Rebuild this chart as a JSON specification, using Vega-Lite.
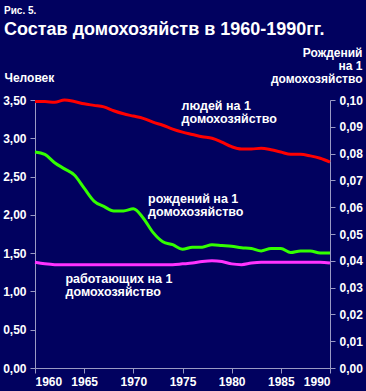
{
  "$schema": "https://vega.github.io/schema/vega-lite/v6.json",
  "width": 295,
  "height": 268,
  "autosize": "none",
  "padding": {"left": 35, "top": 100, "right": 36, "bottom": 23},
  "background": "#01015f",
  "title": {
    "text": "Рис. 5.",
    "subtitle": "Состав домохозяйств в 1960-1990гг.",
    "anchor": "start",
    "frame": "group",
    "dx": -31,
    "offset": 7,
    "font": "Liberation Sans",
    "fontSize": 10,
    "fontWeight": "bold",
    "color": "#ffffff",
    "subtitleFont": "Liberation Sans",
    "subtitleFontSize": 18,
    "subtitleFontWeight": "bold",
    "subtitleColor": "#ffffff",
    "subtitlePadding": 5
  },
  "config": {
    "view": {"stroke": null},
    "axis": {
      "labelFont": "Liberation Sans",
      "labelFontSize": 12,
      "labelFontWeight": "bold",
      "labelColor": "#ffffff",
      "labelOverlap": false,
      "titleFont": "Liberation Sans",
      "titleFontSize": 12,
      "titleFontWeight": "bold",
      "titleColor": "#ffffff",
      "domainColor": "#9a9ac4",
      "tickColor": "#9a9ac4",
      "tickSize": 5,
      "labelPadding": 4,
      "grid": false
    }
  },
  "layer": [
    {
      "layer": [
        {
          "data": {
            "values": [
              {"year": 1960, "series": "people", "value": 3.48},
              {"year": 1961, "series": "people", "value": 3.48},
              {"year": 1962, "series": "people", "value": 3.47},
              {"year": 1963, "series": "people", "value": 3.5},
              {"year": 1964, "series": "people", "value": 3.48},
              {"year": 1965, "series": "people", "value": 3.45},
              {"year": 1966, "series": "people", "value": 3.43},
              {"year": 1967, "series": "people", "value": 3.41},
              {"year": 1968, "series": "people", "value": 3.36},
              {"year": 1969, "series": "people", "value": 3.32},
              {"year": 1970, "series": "people", "value": 3.29},
              {"year": 1971, "series": "people", "value": 3.26},
              {"year": 1972, "series": "people", "value": 3.21},
              {"year": 1973, "series": "people", "value": 3.17},
              {"year": 1974, "series": "people", "value": 3.12},
              {"year": 1975, "series": "people", "value": 3.08},
              {"year": 1976, "series": "people", "value": 3.05},
              {"year": 1977, "series": "people", "value": 3.02},
              {"year": 1978, "series": "people", "value": 3.0},
              {"year": 1979, "series": "people", "value": 2.95},
              {"year": 1980, "series": "people", "value": 2.89},
              {"year": 1981, "series": "people", "value": 2.86},
              {"year": 1982, "series": "people", "value": 2.86},
              {"year": 1983, "series": "people", "value": 2.87},
              {"year": 1984, "series": "people", "value": 2.85},
              {"year": 1985, "series": "people", "value": 2.82},
              {"year": 1986, "series": "people", "value": 2.79},
              {"year": 1987, "series": "people", "value": 2.79},
              {"year": 1988, "series": "people", "value": 2.77},
              {"year": 1989, "series": "people", "value": 2.74},
              {"year": 1990, "series": "people", "value": 2.69},
              {"year": 1960, "series": "workers", "value": 1.38},
              {"year": 1961, "series": "workers", "value": 1.36},
              {"year": 1962, "series": "workers", "value": 1.35},
              {"year": 1963, "series": "workers", "value": 1.35},
              {"year": 1964, "series": "workers", "value": 1.35},
              {"year": 1965, "series": "workers", "value": 1.35},
              {"year": 1966, "series": "workers", "value": 1.35},
              {"year": 1967, "series": "workers", "value": 1.35},
              {"year": 1968, "series": "workers", "value": 1.35},
              {"year": 1969, "series": "workers", "value": 1.35},
              {"year": 1970, "series": "workers", "value": 1.35},
              {"year": 1971, "series": "workers", "value": 1.35},
              {"year": 1972, "series": "workers", "value": 1.35},
              {"year": 1973, "series": "workers", "value": 1.35},
              {"year": 1974, "series": "workers", "value": 1.35},
              {"year": 1975, "series": "workers", "value": 1.36},
              {"year": 1976, "series": "workers", "value": 1.37},
              {"year": 1977, "series": "workers", "value": 1.39},
              {"year": 1978, "series": "workers", "value": 1.4},
              {"year": 1979, "series": "workers", "value": 1.39},
              {"year": 1980, "series": "workers", "value": 1.36},
              {"year": 1981, "series": "workers", "value": 1.35},
              {"year": 1982, "series": "workers", "value": 1.37},
              {"year": 1983, "series": "workers", "value": 1.38},
              {"year": 1984, "series": "workers", "value": 1.38},
              {"year": 1985, "series": "workers", "value": 1.38},
              {"year": 1986, "series": "workers", "value": 1.38},
              {"year": 1987, "series": "workers", "value": 1.38},
              {"year": 1988, "series": "workers", "value": 1.38},
              {"year": 1989, "series": "workers", "value": 1.38},
              {"year": 1990, "series": "workers", "value": 1.37}
            ]
          },
          "mark": {"type": "line", "strokeWidth": 3, "interpolate": "monotone"},
          "encoding": {
            "x": {
              "field": "year",
              "type": "quantitative",
              "scale": {"domain": [1960, 1990], "nice": false, "zero": false},
              "axis": {
                "values": [1960, 1965, 1970, 1975, 1980, 1985, 1990],
                "format": "d",
                "title": null,
                "labelPadding": 3
              }
            },
            "y": {
              "field": "value",
              "type": "quantitative",
              "scale": {"domain": [0, 3.5], "nice": false},
              "axis": {
                "values": [0, 0.5, 1, 1.5, 2, 2.5, 3, 3.5],
                "labelOverlap": false,
                "labelExpr": "replace(format(datum.value, '.2f'), '.', ',')",
                "title": "Человек",
                "titleAngle": 0,
                "titleAlign": "left",
                "titleBaseline": "alphabetic",
                "titleX": -31,
                "titleY": -19
              }
            },
            "color": {
              "field": "series",
              "type": "nominal",
              "scale": {"domain": ["people", "workers"], "range": ["#ff0000", "#ff33ff"]},
              "legend": null
            }
          }
        },
        {
          "data": {
            "values": [
              {"year": 1974.9, "value": 3.37, "label": "людей на 1\nдомохозяйство"},
              {"year": 1971.5, "value": 2.16, "label": "рождений на 1\nдомохозяйство"},
              {"year": 1963.1, "value": 1.11, "label": "работающих на 1\nдомохозяйство"}
            ]
          },
          "mark": {
            "type": "text",
            "align": "left",
            "baseline": "alphabetic",
            "lineBreak": "\n",
            "lineHeight": 13,
            "font": "Liberation Sans",
            "fontSize": 12.5,
            "fontWeight": "bold",
            "color": "#ffffff"
          },
          "encoding": {
            "x": {"field": "year", "type": "quantitative"},
            "y": {
              "field": "value",
              "type": "quantitative",
              "axis": {
                "values": [0, 0.5, 1, 1.5, 2, 2.5, 3, 3.5],
                "labelOverlap": false,
                "labelExpr": "replace(format(datum.value, '.2f'), '.', ',')",
                "title": "Человек",
                "titleAngle": 0,
                "titleAlign": "left",
                "titleBaseline": "alphabetic",
                "titleX": -31,
                "titleY": -19
              }
            },
            "text": {"field": "label"}
          }
        }
      ]
    },
    {
      "data": {
        "values": [
          {"year": 1960, "births": 0.0806},
          {"year": 1961, "births": 0.0797},
          {"year": 1962, "births": 0.0766},
          {"year": 1963, "births": 0.0743},
          {"year": 1964, "births": 0.072},
          {"year": 1965, "births": 0.0671},
          {"year": 1966, "births": 0.0623},
          {"year": 1967, "births": 0.0603},
          {"year": 1968, "births": 0.0586},
          {"year": 1969, "births": 0.0586},
          {"year": 1970, "births": 0.0594},
          {"year": 1971, "births": 0.056},
          {"year": 1972, "births": 0.0506},
          {"year": 1973, "births": 0.0471},
          {"year": 1974, "births": 0.046},
          {"year": 1975, "births": 0.0443},
          {"year": 1976, "births": 0.0451},
          {"year": 1977, "births": 0.0451},
          {"year": 1978, "births": 0.046},
          {"year": 1979, "births": 0.0457},
          {"year": 1980, "births": 0.0454},
          {"year": 1981, "births": 0.0449},
          {"year": 1982, "births": 0.0446},
          {"year": 1983, "births": 0.0437},
          {"year": 1984, "births": 0.0446},
          {"year": 1985, "births": 0.0446},
          {"year": 1986, "births": 0.0431},
          {"year": 1987, "births": 0.0437},
          {"year": 1988, "births": 0.0437},
          {"year": 1989, "births": 0.0429},
          {"year": 1990, "births": 0.0429}
        ]
      },
      "mark": {"type": "line", "strokeWidth": 3, "interpolate": "monotone", "color": "#33ff00"},
      "encoding": {
        "x": {"field": "year", "type": "quantitative"},
        "y": {
          "field": "births",
          "type": "quantitative",
          "scale": {"domain": [0, 0.1], "nice": false},
          "axis": {
            "orient": "right",
            "values": [0, 0.01, 0.02, 0.03, 0.04, 0.05, 0.06, 0.07, 0.08, 0.09, 0.1],
            "labelOverlap": false,
            "labelExpr": "replace(format(datum.value, '.2f'), '.', ',')",
            "title": ["Рождений", "на 1", "домохозяйство"],
            "titleAngle": 0,
            "titleAlign": "right",
            "titleBaseline": "alphabetic",
            "titleLineHeight": 13,
            "titleX": 32,
            "titleY": -44
          }
        }
      }
    }
  ],
  "resolve": {"scale": {"y": "independent"}}
}
